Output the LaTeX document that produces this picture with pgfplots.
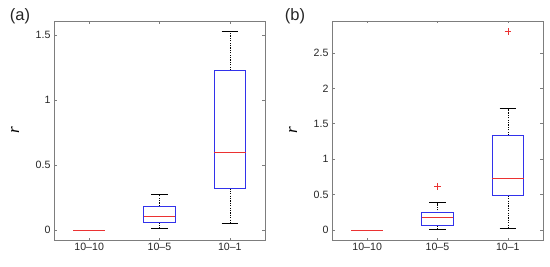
\documentclass[border=0pt]{standalone}
\usepackage{fontspec}
\setmainfont{Liberation Sans}
\newfontfamily\serifit{Liberation Serif}
\usepackage{pgfplots}
\pgfplotsset{compat=1.18}
\usepgfplotslibrary{statistics}

\definecolor{mblue}{RGB}{50,50,235}
\definecolor{mred}{RGB}{235,50,50}
\definecolor{frame}{RGB}{125,125,125}

\pgfplotsset{
  panel/.style={
    width=211pt, height=219pt, scale only axis,
    xmin=0.5, xmax=3.5,
    xtick={1,2,3}, xticklabels={10--10,10--5,10--1},
    tick align=inside, major tick length=2.5pt,
    axis line style={frame, line width=0.6pt},
    tick style={frame, line width=0.5pt},
    ticklabel style={font=\fontsize{10.6}{12}\selectfont, text=black!85},
    /pgf/number format/assume math mode=true,
    ylabel={\serifit\itshape r},
    every axis y label/.style={at={(axis description cs:0,0.5)}, xshift=-39pt,
      rotate=90, anchor=center, font=\fontsize{17}{18}\selectfont},
    title style={anchor=center, font=\fontsize{16.5}{18}\selectfont, text=black!85},
    boxplot/draw direction=y,
    boxplot/box extend=0.45,
    boxplot/whisker extend=0.23,
    boxplot/every box/.style={draw=mblue, line width=0.75pt},
    boxplot/every median/.style={draw=mred, line width=0.75pt},
    boxplot/every whisker/.style={draw=black, line width=0.5pt},
    boxplot/draw/lower whisker/.code={%
      \draw[/pgfplots/boxplot/every whisker/.try, dash pattern=on 1.2pt off 1.2pt]
        (boxplot box cs:\pgfplotsboxplotvalue{lower quartile},0.5)
        -- (boxplot box cs:\pgfplotsboxplotvalue{lower whisker},0.5);
      \draw[/pgfplots/boxplot/every whisker/.try]
        (boxplot whisker cs:\pgfplotsboxplotvalue{lower whisker},0)
        -- (boxplot whisker cs:\pgfplotsboxplotvalue{lower whisker},1);
    },
    boxplot/draw/upper whisker/.code={%
      \draw[/pgfplots/boxplot/every whisker/.try, dash pattern=on 1.2pt off 1.2pt]
        (boxplot box cs:\pgfplotsboxplotvalue{upper quartile},0.5)
        -- (boxplot box cs:\pgfplotsboxplotvalue{upper whisker},0.5);
      \draw[/pgfplots/boxplot/every whisker/.try]
        (boxplot whisker cs:\pgfplotsboxplotvalue{upper whisker},0)
        -- (boxplot whisker cs:\pgfplotsboxplotvalue{upper whisker},1);
    },
  },
  zerobox/.style={boxplot/every box/.style={draw=none},
    boxplot/every whisker/.style={draw=none}},
  outl/.style={mred, mark=+, mark size=3.3pt, mark options={line width=0.6pt}},
}

\begin{document}
\begin{tikzpicture}
\useasboundingbox (0,0) rectangle (550pt,266pt);

% panel (a)
\begin{axis}[panel, at={(54pt,26pt)}, anchor=south west,
    ymin=-0.077, ymax=1.606, ytick={0,0.5,1,1.5},
    title={(a)}, title style={at={(axis description cs:0,1)}, xshift=-34pt, yshift=-1pt}]
\addplot[zerobox, boxplot prepared={draw direction=y, draw position=1, lower whisker=0, lower quartile=0,
    median=0, upper quartile=0, upper whisker=0}] coordinates {};
\addplot[boxplot prepared={draw direction=y, draw position=2, lower whisker=0.013, lower quartile=0.056,
    median=0.105, upper quartile=0.184, upper whisker=0.276}] coordinates {};
\addplot[boxplot prepared={draw direction=y, draw position=3, lower whisker=0.049, lower quartile=0.32,
    median=0.593, upper quartile=1.228, upper whisker=1.527}] coordinates {};
\end{axis}

% panel (b)
\begin{axis}[panel, at={(332pt,26pt)}, anchor=south west,
    ymin=-0.141, ymax=2.95, ytick={0,0.5,1,1.5,2,2.5},
    title={(b)}, title style={at={(axis description cs:0,1)}, xshift=-37pt, yshift=-1pt}]
\addplot[zerobox, boxplot prepared={draw direction=y, draw position=1, lower whisker=0, lower quartile=0,
    median=0, upper quartile=0, upper whisker=0}] coordinates {};
\addplot[outl, boxplot prepared={draw direction=y, draw position=2, lower whisker=0.005, lower quartile=0.066,
    median=0.174, upper quartile=0.244, upper whisker=0.385}] coordinates {(0,0.611)};
\addplot[outl, boxplot prepared={draw direction=y, draw position=3, lower whisker=0.023, lower quartile=0.484,
    median=0.724, upper quartile=1.339, upper whisker=1.715}] coordinates {(0,2.80)};
\end{axis}
\end{tikzpicture}
\end{document}
